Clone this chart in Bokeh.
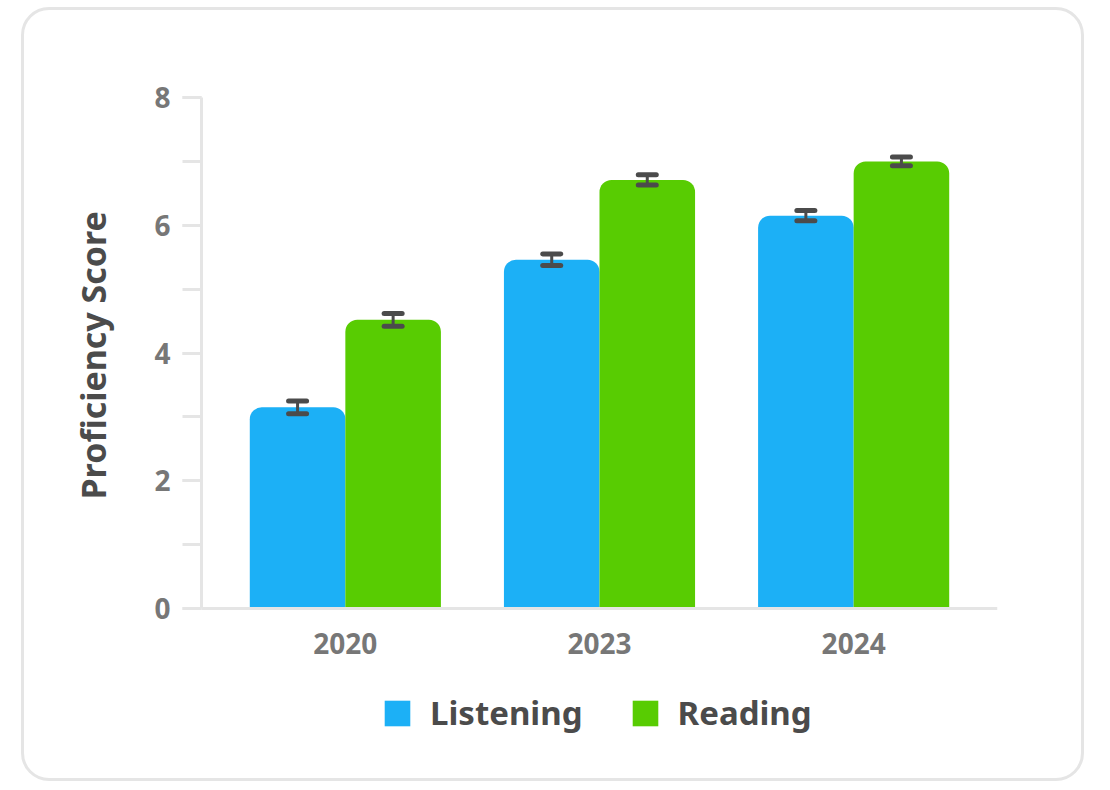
from bokeh.plotting import figure
from bokeh.models import (ColumnDataSource, FactorRange, Whisker, TeeHead, Legend,
                          LegendItem, Range1d, SingleIntervalTicker, Title)
from bokeh.transform import dodge
from bokeh.embed import file_html
from bokeh.resources import INLINE

years = ["2020", "2023", "2024"]
listening = [3.15, 5.46, 6.15]
listening_err = [0.10, 0.09, 0.08]
reading = [4.52, 6.71, 7.00]
reading_err = [0.10, 0.08, 0.07]
series_names = ["Listening", "Reading"]
colors = ["#1CB0F6", "#58CC02"]
y_label = "Proficiency Score"
y_max = 8

FONT = "Noto Sans"

src = ColumnDataSource(dict(
    year=years,
    listening=listening,
    l_up=[v + e for v, e in zip(listening, listening_err)],
    l_lo=[v - e for v, e in zip(listening, listening_err)],
    reading=reading,
    r_up=[v + e for v, e in zip(reading, reading_err)],
    r_lo=[v - e for v, e in zip(reading, reading_err)],
))

# plot area extends below the x axis to host the legend inside the frame
axis_h = 511          # px from 0 to y_max
frame_h = 672         # px total frame height
y_start = -y_max * (frame_h - axis_h) / axis_h

p = figure(x_range=FactorRange(*years, range_padding=0.044),
           y_range=Range1d(y_start, y_max),
           frame_width=796, frame_height=frame_h,
           output_backend="svg", toolbar_location=None,
           min_border_left=177, min_border_right=84,
           min_border_top=87, min_border_bottom=9)
p.styles = {"margin-left": "21px", "margin-top": "7px",
            "border": "3px solid #E5E5E5", "border-radius": "28px"}
p.background_fill_color = "white"
p.border_fill_color = None
p.outline_line_color = None
p.grid.visible = False

bw = 0.376
r1 = p.vbar(x=dodge("year", -bw / 2, range=p.x_range), top="listening", width=bw,
            source=src, fill_color=colors[0], line_color=None,
            border_radius=(12, 12, 0, 0))
r2 = p.vbar(x=dodge("year", bw / 2, range=p.x_range), top="reading", width=bw,
            source=src, fill_color=colors[1], line_color=None,
            border_radius=(12, 12, 0, 0))

for off, up, lo in [(-bw / 2, "l_up", "l_lo"), (bw / 2, "r_up", "r_lo")]:
    w = Whisker(source=src, base=dodge("year", off, range=p.x_range), upper=up, lower=lo,
                level="annotation",
                line_color="#4B4B4B", line_width=3,
                upper_head=TeeHead(size=18, line_color="#4B4B4B", line_width=5, line_cap="round"),
                lower_head=TeeHead(size=18, line_color="#4B4B4B", line_width=5, line_cap="round"))
    p.add_layout(w)

# y axis
ya = p.yaxis[0]
ya.bounds = (0, y_max)
ya.ticker = SingleIntervalTicker(interval=2, num_minor_ticks=2)
ya.axis_line_color = "#E5E5E5"
ya.axis_line_width = 3
ya.major_tick_line_color = "#E5E5E5"
ya.minor_tick_line_color = "#E5E5E5"
ya.major_tick_line_width = 3
ya.minor_tick_line_width = 3
ya.major_tick_out = 19
ya.minor_tick_out = 19
ya.major_tick_in = 0
ya.minor_tick_in = 0
ya.major_label_text_font = FONT
ya.major_label_text_font_style = "bold"
ya.major_label_text_font_size = "28px"
ya.major_label_text_color = "#777777"
ya.major_label_standoff = 12

# y axis title, centred on the 0..8 part of the axis
ytitle = Title(text=y_label, align="left", vertical_align="bottom",
               offset=270, standoff=72,
               text_font=FONT, text_font_style="bold", text_font_size="34px",
               text_color="#4B4B4B")
p.add_layout(ytitle, "left")

# x axis, pinned at y = 0
xa = p.xaxis[0]
xa.fixed_location = 0
xa.axis_line_color = "#E5E5E5"
xa.axis_line_width = 3
xa.major_tick_line_color = None
xa.minor_tick_line_color = None
xa.major_label_text_font = FONT
xa.major_label_text_font_style = "bold"
xa.major_label_text_font_size = "28px"
xa.major_label_text_color = "#777777"
xa.major_label_standoff = 18

legend = Legend(items=[LegendItem(label=series_names[0], renderers=[r1]),
                       LegendItem(label=series_names[1], renderers=[r2])],
                orientation="horizontal", location=(180, 34),
                label_text_font=FONT, label_text_font_style="bold",
                label_text_font_size="33px", label_text_color="#4B4B4B",
                glyph_width=32, glyph_height=32, label_standoff=17, spacing=46,
                border_line_color=None, background_fill_color=None,
                margin=0, padding=0)
p.add_layout(legend, "center")

open("out.html", "w").write(file_html(p, INLINE))
